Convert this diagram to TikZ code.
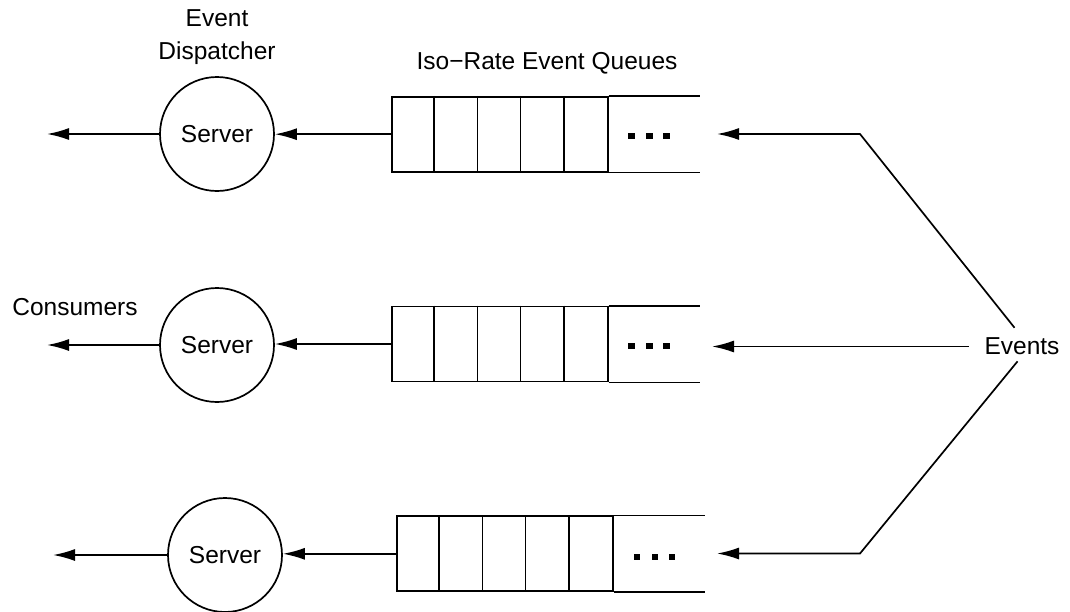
\documentclass[tikz,border=0pt]{standalone}
\usepackage{fontspec}
\setmainfont{Liberation Sans}
\usetikzlibrary{arrows.meta}
\begin{document}
\begin{tikzpicture}[x=1pt,y=-1pt,
  line width=1.7pt,
  every node/.style={font=\fontsize{24.5}{33}\selectfont, inner sep=0pt},
  server/.style={draw, circle, minimum size=114pt},
  qcells/.style={draw, rectangle, minimum width=216pt, minimum height=75pt, anchor=west},
  arr/.style={-{Latex[length=22pt,width=12pt]}},
  qdot/.style={fill=black, draw=none, rectangle, minimum size=6.5pt}
]
\useasboundingbox (0,0) rectangle (1070,611);

% labels
\node[anchor=north, align=center] (disp) at (217,9) {Event\\Dispatcher};
\node (title) at (547,63) {Iso−Rate Event Queues};
\node (cons) at (75,307) {Consumers};
\node (ev) at (1022,346.5) {Events};

% servers
\node[server] (s1) at (217,134) {Server};
\node[server] (s2) at (217,345) {Server};
\node[server] (s3) at (225,555) {Server};

% queues: five closed cells followed by an open tail
\node[qcells] (q1) at (391,134.2) {};
\node[qcells] (q2) at (391,344) {};
\node[qcells] (q3) at (396,553.8) {};
\foreach \q in {q1,q2,q3}{
  \foreach \i in {1,...,4}
    \draw ([xshift=\i*43.2pt]\q.north west) -- ([xshift=\i*43.2pt]\q.south west);
  \draw (\q.north east) -- ++(91,0);
  \draw (\q.south east) -- ++(91,0);
}
\node[qdot] (q1a) at (631.5,136) {};
\node[qdot] (q1b) at (649.5,136) {};
\node[qdot] (q1c) at (666.5,136) {};
\node[qdot] (q2a) at (631.5,346) {};
\node[qdot] (q2b) at (649.5,346) {};
\node[qdot] (q2c) at (666.5,346) {};
\node[qdot] (q3a) at (637,557) {};
\node[qdot] (q3b) at (655,557) {};
\node[qdot] (q3c) at (672,557) {};

% outputs to consumers
\coordinate (o1) at (47,134);
\coordinate (o2) at (47,345);
\coordinate (o3) at (53,555);
\draw[arr] (s1) -- (o1);
\draw[arr] (s2) -- (o2);
\draw[arr] (s3) -- (o3);

% queues feed the servers
\draw[arr] (q1.west) -- (q1.west -| s1.east);
\draw[arr] (q2.west) -- (q2.west -| s2.east);
\draw[arr] (q3.west) -- (q3.west -| s3.east);

% incoming events
\coordinate (c1) at (860,134);
\coordinate (t1) at (717,134);
\coordinate (t2) at (712,345);
\coordinate (c3) at (860,553.5);
\coordinate (t3) at (717,553.5);
\draw[arr, shorten <=12pt] (ev.north) -- (c1) -- (t1);
\draw[arr, shorten <=15pt] (ev.west) -- (ev.west -| t2);
\draw[arr, shorten <=7pt] (ev.south) -- (c3) -- (t3);
\end{tikzpicture}
\end{document}
